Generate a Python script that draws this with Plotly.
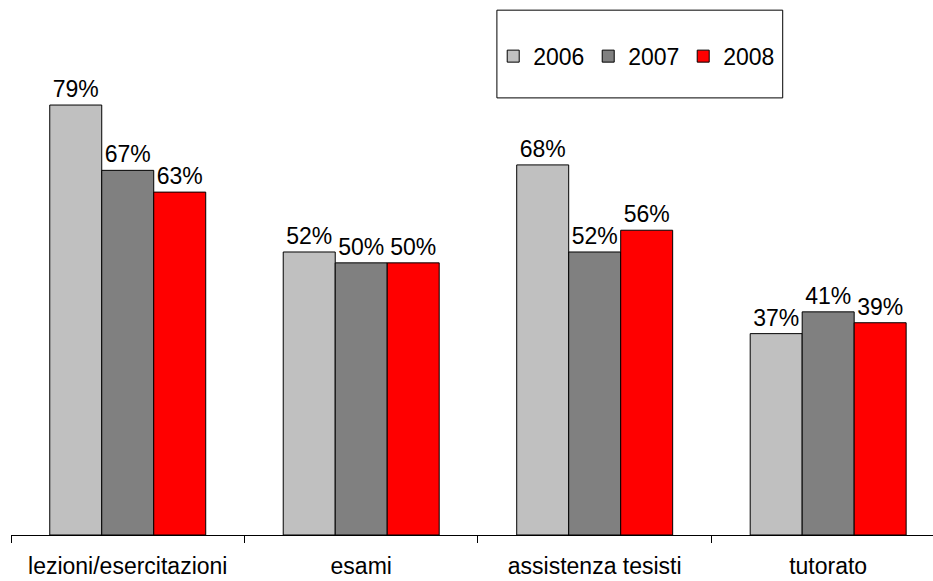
import plotly.graph_objects as go

categories = ["lezioni/esercitazioni", "esami", "assistenza tesisti", "tutorato"]
years = ["2006", "2007", "2008"]
values_2006 = [0.79, 0.52, 0.68, 0.37]
values_2007 = [0.67, 0.50, 0.52, 0.41]
values_2008 = [0.63, 0.50, 0.56, 0.39]
colors = ["#C0C0C0", "#808080", "#FF0000"]

FONT = "Liberation Sans, Arial, sans-serif"
FS = 23

fig = go.Figure()
for name, vals, col in zip(years, [values_2006, values_2007, values_2008], colors):
    fig.add_trace(go.Bar(
        x=categories,
        y=vals,
        name=name,
        marker=dict(color=col, line=dict(color="#000000", width=1)),
        text=[f"{v:.0%}" for v in vals],
        textposition="outside",
        constraintext="none",
        textfont=dict(family=FONT, size=FS, color="#000000"),
        cliponaxis=False,
    ))

# legend frame
fig.add_shape(type="rect", xref="paper", yref="paper",
              x0=0.527, x1=0.837, y0=0.817, y1=0.981,
              line=dict(color="#000000", width=1), fillcolor="rgba(0,0,0,0)")

fig.update_layout(
    width=933, height=581,
    margin=dict(l=11, r=0, t=0, b=46),
    paper_bgcolor="white", plot_bgcolor="white",
    barmode="group", bargap=0.332, bargroupgap=0,
    font=dict(family=FONT, size=FS, color="#000000"),
    showlegend=True,
    legend=dict(orientation="h", x=0.523, xanchor="left", y=0.895, yanchor="middle",
                bgcolor="rgba(0,0,0,0)", borderwidth=0,
                font=dict(family=FONT, size=FS, color="#000000"),
                entrywidth=50, entrywidthmode="pixels"),
    xaxis=dict(type="category", range=[-0.5, 3.449], showline=True, linecolor="#000000",
               linewidth=1, ticks="outside", tickson="boundaries", ticklen=7,
               tickcolor="#000000", showgrid=False, zeroline=False,
               ticklabelstandoff=10,
               tickfont=dict(family=FONT, size=FS, color="#000000")),
    yaxis=dict(range=[0, 0.983], visible=False, showgrid=False, zeroline=False),
)

fig.write_html("out.html")
